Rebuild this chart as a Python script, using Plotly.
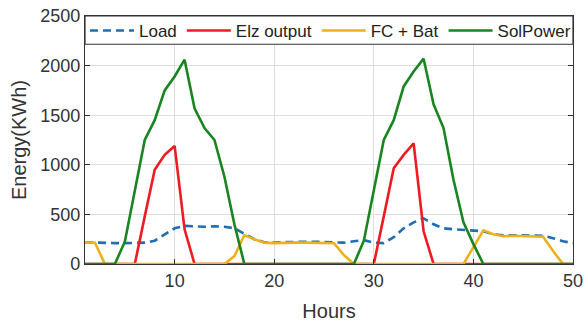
import plotly.graph_objects as go

hours = list(range(1, 51))

load = [220, 215, 210, 210, 210, 210, 215, 235, 300, 360,
        385, 380, 375, 380, 375, 360, 305, 250, 220, 215,
        220, 225, 225, 225, 220, 215, 215, 230, 240, 215,
        210, 270, 360, 420, 460, 400, 360, 350, 345, 335,
        330, 300, 290, 290, 290, 290, 285, 260, 230, 210]

elz = [0, 0, 0, 0, 0, 0, 480, 950, 1100, 1190,
       350, 0, 0, 0, 0, 0, 0, 0, 0, 0,
       0, 0, 0, 0, 0, 0, 0, 0, 0, 0,
       480, 965, 1100, 1215, 330, 0, 0, 0, 0, 0,
       0, 0, 0, 0, 0, 0, 0, 0, 0, 0]

fcbat = [220, 215, 0, 0, 0, 0, 0, 0, 0, 0,
         0, 0, 0, 0, 0, 80, 290, 250, 215, 210,
         215, 215, 215, 215, 210, 210, 90, 0, 0, 0,
         0, 0, 0, 0, 0, 0, 0, 0, 0, 170,
         340, 300, 280, 285, 280, 280, 275, 130, 0, 0]

solpower = [0, 0, 0, 0, 225, 740, 1250, 1450, 1750, 1890,
            2060, 1570, 1370, 1250, 880, 400, 0, 0, 0, 0,
            0, 0, 0, 0, 0, 0, 0, 0, 235, 740,
            1250, 1450, 1790, 1940, 2070, 1610, 1370, 850, 420, 200,
            0, 0, 0, 0, 0, 0, 0, 0, 0, 0]

names = ["Load", "Elz output", "FC + Bat", "SolPower"]
colors = ["#1f6fb0", "#ee1b22", "#edb120", "#1a8420"]
dashes = ["8px,5px", "solid", "solid", "solid"]
series = [load, elz, fcbat, solpower]

fig = go.Figure()
for nm, col, ds, ys in zip(names, colors, dashes, series):
    fig.add_trace(go.Scatter(x=hours, y=ys, mode="lines", name=nm,
                             line=dict(color=col, width=2.6, dash=ds)))

# legend box across the top of the axes
fig.add_shape(type="rect", xref="paper", yref="y", x0=0, x1=1, y0=2215, y1=2500,
              fillcolor="white", line=dict(color="#333333", width=1.2), layer="above")

axis_common = dict(showline=True, linecolor="#333333", linewidth=1.2, mirror="ticks",
                   ticks="inside", ticklen=5, tickcolor="#333333", automargin=False,
                   showgrid=True, gridcolor="#dedede", gridwidth=1, zeroline=False,
                   tickfont=dict(family="Liberation Sans, Arial", size=18, color="#333333"))

fig.update_xaxes(range=[1, 50], tickvals=[10, 20, 30, 40, 50],
                 title=dict(text="Hours", font=dict(family="Liberation Sans, Arial", size=20, color="#333333"), standoff=14),
                 **axis_common)
fig.update_yaxes(range=[0, 2500], tickvals=[0, 500, 1000, 1500, 2000, 2500],
                 title=dict(text="Energy(KWh)", font=dict(family="Liberation Sans, Arial", size=20, color="#333333"), standoff=8),
                 **axis_common)

fig.update_layout(
    width=584, height=324,
    margin=dict(l=85, r=11, t=16, b=60),
    paper_bgcolor="white", plot_bgcolor="white",
    showlegend=True,
    legend=dict(orientation="h", x=0.0, y=1.012, xanchor="left", yanchor="top",
                bgcolor="rgba(0,0,0,0)", borderwidth=0,
                font=dict(family="Liberation Sans, Arial", size=17, color="#222222"),
                tracegroupgap=0, itemwidth=44),
)

fig.write_html("out.html")
